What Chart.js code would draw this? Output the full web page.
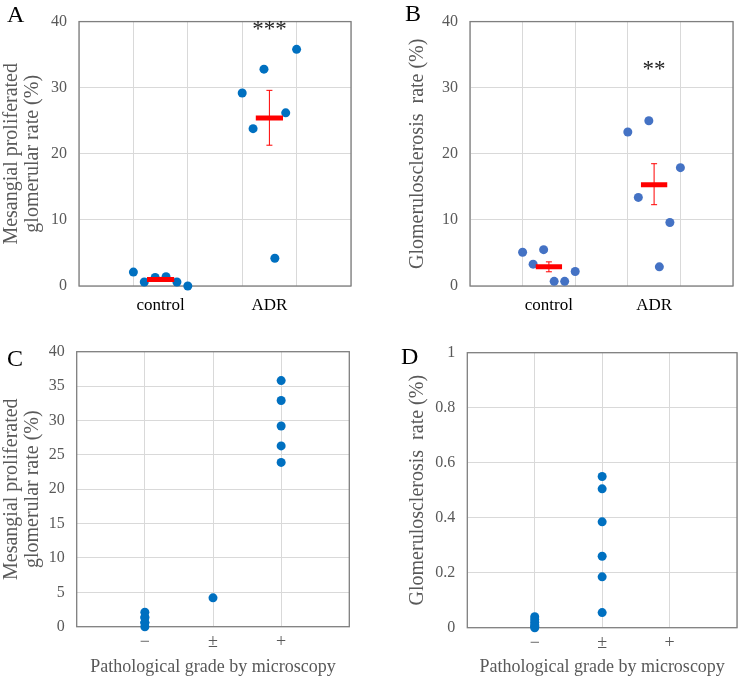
<!DOCTYPE html>
<html>
<head>
<meta charset="utf-8">
<script src="https://cdn.jsdelivr.net/npm/chart.js@4.4.1/dist/chart.umd.min.js"></script>
<style>
html, body { margin: 0; padding: 0; background: #fff; }
#page { position: relative; width: 742px; height: 678px; overflow: hidden; }
.panel { position: absolute; }
.letter { position: absolute; font-family: 'Liberation Serif', serif; font-size: 24px; color: #000; line-height: 1; }
</style>
</head>
<body>
<div id="page">
  <div class="panel" style="left:0;top:0;width:371px;height:330px"><canvas id="chartA"></canvas></div>
  <div class="panel" style="left:371px;top:0;width:371px;height:330px"><canvas id="chartB"></canvas></div>
  <div class="panel" style="left:0;top:330px;width:371px;height:348px"><canvas id="chartC"></canvas></div>
  <div class="panel" style="left:371px;top:330px;width:371px;height:348px"><canvas id="chartD"></canvas></div>
  <div class="letter" style="left:7px;top:2px">A</div>
  <div class="letter" style="left:405px;top:1px">B</div>
  <div class="letter" style="left:7px;top:346px">C</div>
  <div class="letter" style="left:401px;top:344px">D</div>
</div>
<script>
// groups / grades
const groupLabels = ['control', 'ADR'];
const groupCenters = [1.5, 3.5];
const gradeLabels = ['\u2212', '\u00b1', '+'];

// A - mesangial proliferated glomerular rate (%)
const jitterControlX = [1.0, 1.2, 1.4, 1.6, 1.8, 2.0];
const jitterAdrX = [3.0, 3.2, 3.4, 3.6, 3.8, 4.0];
const mesControl = [2.1, 0.6, 1.3, 1.4, 0.6, 0.0];
const mesAdr = [29.2, 23.8, 32.8, 4.2, 26.2, 35.8];
const mesMean = [1.0, 25.4];
const mesLow = [0.7, 21.3];
const mesHigh = [1.3, 29.6];

// B - glomerulosclerosis rate (%)
const glsControl = [5.1, 3.3, 5.5, 0.7, 0.7, 2.2];
const glsAdr = [23.3, 13.4, 25.0, 2.9, 9.6, 17.9];
const glsMean = [2.9, 15.3];
const glsLow = [2.15, 12.3];
const glsHigh = [3.65, 18.5];

// C / D - by pathological grade
const gradeMesX = [1, 1, 1, 1, 1, 1, 2, 3, 3, 3, 3, 3];
const gradeMesY = [2.1, 0.6, 1.3, 1.4, 0.6, 0.0, 4.2, 35.8, 32.9, 29.2, 26.3, 23.9];
const gradeGlsX = [1, 1, 1, 1, 1, 1, 2, 2, 2, 2, 2, 2];
const gradeGlsY = [0.04, 0.03, 0.02, 0.01, 0.005, 0.0, 0.55, 0.505, 0.385, 0.26, 0.185, 0.055];

const SERIF = "'Liberation Serif', 'Times New Roman', serif";
const GRID = '#d9d9d9';
const GREY_TEXT = '#595959';
const RED = '#ff0000';

const framePlugin = {
    id: 'frame',
    beforeDatasetsDraw(chart) {
        const { ctx, chartArea: a } = chart;
        ctx.save();
        ctx.strokeStyle = '#7f7f7f';
        ctx.lineWidth = 1.3;
        ctx.strokeRect(a.left, a.top, a.right - a.left, a.bottom - a.top);
        ctx.restore();
    }
};

// significance stars, centred on (x, y) in data units
const sigPlugin = {
    id: 'sig',
    afterDatasetsDraw(chart, args, opts) {
        if (!opts || !opts.text) return;
        const { ctx, scales } = chart;
        ctx.save();
        ctx.font = '23px ' + SERIF;
        ctx.fillStyle = '#222';
        ctx.textAlign = 'center';
        ctx.textBaseline = 'alphabetic';
        ctx.fillText(opts.text, scales.x.getPixelForValue(opts.x), scales.y.getPixelForValue(opts.y));
        ctx.restore();
    }
};

function dots(xs, ys, color) {
    return {
        data: xs.map((x, i) => ({ x: x, y: ys[i] })),
        pointRadius: 4.5,
        pointHoverRadius: 4.5,
        pointBackgroundColor: color,
        pointBorderWidth: 0,
        clip: false,
        order: 2
    };
}

function meanBars(means, low, high) {
    const sets = [];
    means.forEach((m, i) => {
        const c = groupCenters[i];
        sets.push({
            data: [{ x: c, y: low[i] }, { x: c, y: high[i] }],
            showLine: true,
            borderColor: RED,
            borderWidth: 1,
            pointStyle: 'line',
            pointRadius: 3,
            pointBorderColor: RED,
            pointBorderWidth: 1,
            order: 1
        });
        sets.push({
            data: [{ x: c - 0.25, y: m }, { x: c + 0.25, y: m }],
            showLine: true,
            borderColor: RED,
            borderWidth: 5,
            borderCapStyle: 'butt',
            pointRadius: 0,
            order: 0
        });
    });
    return sets;
}

function panel(id, p) {
    return new Chart(document.getElementById(id), {
        type: 'scatter',
        data: { datasets: p.datasets },
        plugins: [framePlugin, sigPlugin],
        options: {
            responsive: true,
            maintainAspectRatio: false,
            animation: false,
            layout: { padding: p.padding },
            plugins: {
                legend: { display: false },
                tooltip: { enabled: false },
                sig: p.sig || {}
            },
            scales: {
                x: {
                    type: 'linear',
                    min: 0,
                    max: p.xMax,
                    afterBuildTicks: (s) => { s.ticks = p.xTicks.map(v => ({ value: v })); },
                    afterFit: (s) => { s.height = p.xHeight; },
                    border: { display: false },
                    grid: {
                        drawTicks: false,
                        color: (c) => (c.tick && c.tick.value % 1 === 0) ? GRID : 'rgba(0,0,0,0)'
                    },
                    ticks: {
                        autoSkip: false,
                        maxRotation: 0,
                        padding: p.xTickPad,
                        color: p.xTickColor,
                        font: { family: SERIF, size: p.xTickSize },
                        callback: p.xLabel
                    },
                    title: p.xTitle ? {
                        display: true,
                        text: p.xTitle,
                        color: GREY_TEXT,
                        font: { family: SERIF, size: 18, lineHeight: 1.2 },
                        padding: { top: 0, bottom: 0 }
                    } : { display: false }
                },
                y: {
                    min: 0,
                    max: p.yMax,
                    afterFit: (s) => { s.width = p.yWidth; },
                    border: { display: false },
                    grid: { drawTicks: false, color: GRID },
                    ticks: {
                        stepSize: p.yStep,
                        padding: 12,
                        color: GREY_TEXT,
                        font: { family: SERIF, size: 16 },
                        callback: (v) => String(Number(v.toFixed(2)))
                    },
                    title: {
                        display: true,
                        text: p.yTitle,
                        color: GREY_TEXT,
                        font: { family: SERIF, size: 20, lineHeight: 1.05 },
                        padding: { top: p.yTitlePad, bottom: 0 }
                    }
                }
            }
        }
    });
}

const groupTicks = [0, 1, 1.5, 2, 3, 3.5, 4, 5];
const groupLabel = (v) => {
    const i = groupCenters.indexOf(v);
    return i >= 0 ? groupLabels[i] : '';
};
const gradeLabel = (v) => (v >= 1 && v <= 3) ? gradeLabels[v - 1] : '';

panel('chartA', {
    datasets: [
        dots(jitterControlX, mesControl, '#0070c0'),
        dots(jitterAdrX, mesAdr, '#0070c0'),
        ...meanBars(mesMean, mesLow, mesHigh)
    ],
    padding: { left: 0, top: 9.5, right: 20, bottom: 0 },
    xMax: 5, xTicks: groupTicks, xLabel: groupLabel,
    xHeight: 44, xTickPad: 9, xTickColor: '#000', xTickSize: 17,
    yMax: 40, yStep: 10, yWidth: 79, yTitlePad: 1,
    yTitle: ['Mesangial proliferated', 'glomerular rate (%)'],
    sig: { text: '***', x: 3.5, y: 37.8 }
});

panel('chartB', {
    datasets: [
        dots(jitterControlX, glsControl, '#4472c4'),
        dots(jitterAdrX, glsAdr, '#4472c4'),
        ...meanBars(glsMean, glsLow, glsHigh)
    ],
    padding: { left: 0, top: 9.5, right: 2, bottom: 0 },
    xMax: 5, xTicks: groupTicks, xLabel: groupLabel,
    xHeight: 44, xTickPad: 9, xTickColor: '#000', xTickSize: 17,
    yMax: 40, yStep: 10, yWidth: 99, yTitlePad: 36,
    yTitle: 'Glomerulosclerosis  rate (%)',
    sig: { text: '**', x: 3.5, y: 31.8 }
});

panel('chartC', {
    datasets: [dots(gradeMesX, gradeMesY, '#0070c0')],
    padding: { left: 0, top: 21.7, right: 21.7, bottom: 0 },
    xMax: 4, xTicks: [0, 1, 2, 3, 4], xLabel: gradeLabel,
    xHeight: 51.3, xTickPad: 5, xTickColor: GREY_TEXT, xTickSize: 18,
    xTitle: 'Pathological grade by microscopy',
    yMax: 40, yStep: 5, yWidth: 76.7, yTitlePad: 1,
    yTitle: ['Mesangial proliferated', 'glomerular rate (%)']
});

panel('chartD', {
    datasets: [dots(gradeGlsX, gradeGlsY, '#0070c0')],
    padding: { left: 0, top: 22.7, right: 2, bottom: 0 },
    xMax: 4, xTicks: [0, 1, 2, 3, 4], xLabel: gradeLabel,
    xHeight: 50.3, xTickPad: 5, xTickColor: GREY_TEXT, xTickSize: 18,
    xTitle: 'Pathological grade by microscopy',
    yMax: 1, yStep: 0.2, yWidth: 96.3, yTitlePad: 36,
    yTitle: 'Glomerulosclerosis  rate (%)'
});
</script>
</body>
</html>
